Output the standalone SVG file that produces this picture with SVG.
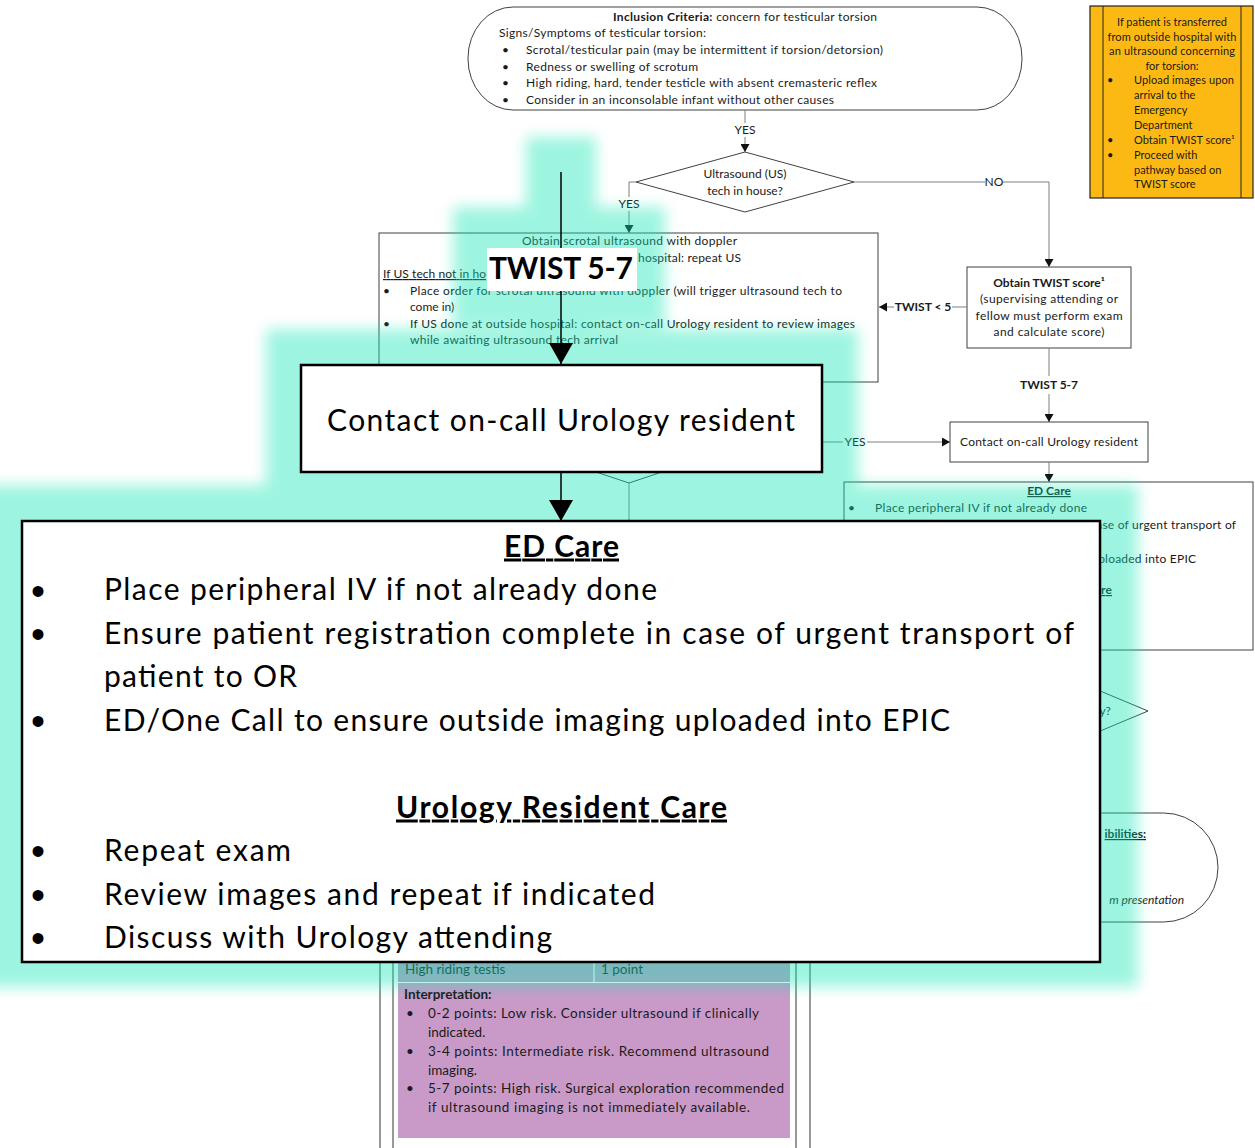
<svg xmlns="http://www.w3.org/2000/svg" width="1255" height="1148" viewBox="0 0 1255 1148">
<style>
.t{font-family:Lato,"Liberation Sans",sans-serif;font-size:12px;fill:#1a1a1a}
.b{font-weight:bold}
.i{font-style:italic}
.u{text-decoration:underline}
.c{text-anchor:middle}
.e{text-anchor:end}
.o{font-size:11px}
.m{font-size:13.5px}
.big{font-family:Lato,"Liberation Sans",sans-serif;font-size:30px;fill:#000}
.bul{font-family:"Liberation Sans",Arial,sans-serif;font-size:40px;fill:#000;text-anchor:middle}
.box{fill:#fff;stroke:#404040;stroke-width:1}
.conn{stroke:#7f7f7f;stroke-width:1;fill:none}
.zbox{fill:#fff;stroke:#000;stroke-width:2.5}
.zline{stroke:#000;stroke-width:1.5;fill:none}
</style>
<defs>
<marker id="a" markerUnits="userSpaceOnUse" markerWidth="9" markerHeight="9" refX="8" refY="4.5" orient="auto"><path d="M0,0 L8,4.5 L0,9 z" fill="#111"/></marker>
<marker id="A" markerUnits="userSpaceOnUse" markerWidth="23" markerHeight="24" refX="21" refY="12" orient="auto"><path d="M0,0 L21,12 L0,24 z" fill="#000"/></marker>
<filter id="blur" x="-10%" y="-10%" width="120%" height="120%"><feGaussianBlur stdDeviation="7"/></filter>
</defs>
<rect width="1255" height="1148" fill="#fff"/>

<!-- ===== base diagram ===== -->
<g id="inclusion">
<rect class="box" x="468" y="7" width="554" height="103" rx="45" ry="51"/>
<text class="t" x="745" y="21" text-anchor="middle" textLength="264"><tspan class="b">Inclusion Criteria:</tspan> concern for testicular torsion</text>
<text class="t" x="499" y="37" textLength="207">Signs/Symptoms of testicular torsion:</text>
<text class="t" x="502" y="54">•</text><text class="t" x="526" y="54" textLength="357">Scrotal/testicular pain (may be intermittent if torsion/detorsion)</text>
<text class="t" x="502" y="71">•</text><text class="t" x="526" y="71" textLength="172">Redness or swelling of scrotum</text>
<text class="t" x="502" y="87">•</text><text class="t" x="526" y="87" textLength="351">High riding, hard, tender testicle with absent cremasteric reflex</text>
<text class="t" x="502" y="104">•</text><text class="t" x="526" y="104" textLength="308">Consider in an inconsolable infant without other causes</text>
</g>

<g id="us-decision">
<polygon class="box" points="745,152 854,182 745,212 636,182"/>
<text class="t c" x="745" y="178">Ultrasound (US)</text>
<text class="t c" x="745" y="195">tech in house?</text>
</g>

<g id="transfer-note">
<rect x="1090" y="6" width="163" height="192" fill="#fdb913" stroke="#222" stroke-width="1.2"/>
<line x1="1103" y1="6" x2="1103" y2="198" stroke="#222" stroke-width="1"/>
<line x1="1241" y1="6" x2="1241" y2="198" stroke="#222" stroke-width="1"/>
<text class="t o c" x="1172" y="26">If patient is transferred</text>
<text class="t o c" x="1172" y="41" textLength="129">from outside hospital with</text>
<text class="t o c" x="1172" y="55" textLength="126">an ultrasound concerning</text>
<text class="t o c" x="1172" y="70">for torsion:</text>
<text class="t o" x="1107" y="84">•</text><text class="t o" x="1134" y="84" textLength="100">Upload images upon</text>
<text class="t o" x="1134" y="99">arrival to the</text>
<text class="t o" x="1134" y="114">Emergency</text>
<text class="t o" x="1134" y="129">Department</text>
<text class="t o" x="1107" y="144">•</text><text class="t o" x="1134" y="144">Obtain TWIST score¹</text>
<text class="t o" x="1107" y="159">•</text><text class="t o" x="1134" y="159">Proceed with</text>
<text class="t o" x="1134" y="174">pathway based on</text>
<text class="t o" x="1134" y="188">TWIST score</text>
</g>

<g id="us-box">
<rect class="box" x="379" y="233" width="499" height="149"/>
<text class="t c" x="629.5" y="245" textLength="215">Obtain scrotal ultrasound with doppler</text>
<text class="t" x="638" y="262" textLength="103">hospital: repeat US</text>
<text class="t u" x="383" y="278" textLength="103">If US tech not in ho</text>
<text class="t" x="383" y="295">•</text><text class="t" x="410" y="295" textLength="432">Place order for scrotal ultrasound with doppler (will trigger ultrasound tech to</text>
<text class="t" x="410" y="311">come in)</text>
<text class="t" x="383" y="328">•</text><text class="t" x="410" y="328" textLength="445">If US done at outside hospital: contact on-call Urology resident to review images</text>
<text class="t" x="410" y="344" textLength="208">while awaiting ultrasound tech arrival</text>
</g>

<g id="twist-box">
<rect class="box" x="967" y="267" width="164" height="81"/>
<text class="t b c" x="1049" y="287">Obtain TWIST score¹</text>
<text class="t c" x="1049" y="303" textLength="138">(supervising attending or</text>
<text class="t c" x="1049" y="320" textLength="147">fellow must perform exam</text>
<text class="t c" x="1049" y="336" textLength="111">and calculate score)</text>
</g>

<g id="contact-small">
<rect class="box" x="950" y="422" width="198" height="40"/>
<text class="t c" x="1049" y="446" textLength="178">Contact on-call Urology resident</text>
</g>

<g id="decision-hidden">
<polygon class="box" points="629,401 752,442 629,483 506,442"/>
</g>

<g id="ed-care-small">
<rect class="box" x="844" y="482" width="409" height="168"/>
<text class="t b u c" x="1049" y="495">ED Care</text>
<text class="t" x="848" y="512">•</text><text class="t" x="875" y="512" textLength="212">Place peripheral IV if not already done</text>
<text class="t" x="875" y="529" textLength="361">Ensure patient registration complete in case of urgent transport of</text>
<text class="t" x="875" y="563" textLength="321">ED/One Call to ensure outside imaging uploaded into EPIC</text>
<text class="t b u c" x="1049" y="594" textLength="126">Urology Resident Care</text>
</g>

<g id="decision-right">
<polygon class="box" points="952,629 1148,711 952,793 756,711"/>
<text class="t e" x="1111" y="715">y?</text>
</g>

<g id="resp-terminal">
<rect class="box" x="420" y="813" width="798" height="109" rx="54.5"/>
<text class="t b u e" x="1146" y="838">ibilities:</text>
<text class="t i e" x="1184" y="904">m presentation</text>
</g>

<g id="twist-table">
<line x1="380" y1="900" x2="380" y2="1148" stroke="#333" stroke-width="1"/>
<line x1="393" y1="900" x2="393" y2="1148" stroke="#333" stroke-width="1"/>
<line x1="796" y1="900" x2="796" y2="1148" stroke="#333" stroke-width="1"/>
<line x1="810" y1="900" x2="810" y2="1148" stroke="#333" stroke-width="1"/>
<rect x="398" y="930" width="392" height="52" fill="#c99ac8"/>
<rect x="398" y="983" width="392" height="155" fill="#c99ac8"/>
<line x1="594" y1="930" x2="594" y2="982" stroke="#fff" stroke-width="1.2"/>
<line x1="398" y1="982.5" x2="790" y2="982.5" stroke="#fff" stroke-width="1.2"/>
<text class="t m" x="405" y="974">High riding testis</text>
<text class="t m" x="601" y="974">1 point</text>
<text class="t m b" x="404" y="999">Interpretation:</text>
<text class="t m" x="406" y="1018">•</text><text class="t m" x="428" y="1018" textLength="331">0-2 points: Low risk. Consider ultrasound if clinically</text>
<text class="t m" x="428" y="1037">indicated.</text>
<text class="t m" x="406" y="1056">•</text><text class="t m" x="428" y="1056" textLength="341">3-4 points: Intermediate risk. Recommend ultrasound</text>
<text class="t m" x="428" y="1075">imaging.</text>
<text class="t m" x="406" y="1093">•</text><text class="t m" x="428" y="1093" textLength="356">5-7 points: High risk. Surgical exploration recommended</text>
<text class="t m" x="428" y="1112" textLength="322">if ultrasound imaging is not immediately available.</text>
</g>

<g id="connectors">
<path class="conn" d="M745,110 V123"/><path class="conn" d="M745,137 V152" marker-end="url(#a)"/>
<text class="t c" x="745" y="134">YES</text>
<path class="conn" d="M636,182 H629 V197"/><path class="conn" d="M629,211 V233" marker-end="url(#a)"/>
<text class="t c" x="629" y="208">YES</text>
<path class="conn" d="M854,182 H985"/><path class="conn" d="M1003,182 H1049 V267" marker-end="url(#a)"/>
<text class="t c" x="994" y="186">NO</text>
<path class="conn" d="M967,307 H952"/><path class="conn" d="M894,307 H879" marker-end="url(#a)"/>
<text class="t b c" x="923" y="311">TWIST &lt; 5</text>
<path class="conn" d="M1049,348 V376"/><path class="conn" d="M1049,394 V422" marker-end="url(#a)"/>
<text class="t b c" x="1049" y="389">TWIST 5-7</text>
<path class="conn" d="M752,442 H843"/><path class="conn" d="M867,442 H950" marker-end="url(#a)"/>
<text class="t c" x="855" y="446">YES</text>
<path class="conn" d="M1049,462 V482" marker-end="url(#a)"/>
<path class="conn" d="M629,483 V540"/>
</g>

<!-- ===== highlight glow ===== -->
<g id="glow" filter="url(#blur)" opacity="0.4" fill="#0ce6b2">
<rect x="526" y="137" width="70" height="240"/>
<rect x="453" y="207" width="212" height="120"/>
<rect x="266" y="329" width="592" height="180"/>
<rect x="-20" y="485" width="1158" height="502"/>
</g>

<!-- ===== magnified callouts ===== -->
<g id="zoom-connectors">
<path class="zline" d="M561,172 V364" marker-end="url(#A)"/>
<path class="zline" d="M561,472 V521" marker-end="url(#A)"/>
</g>

<g id="zoom-twist-label">
<rect x="487" y="248" width="150" height="43" fill="#fff"/>
<text class="big b" x="489" y="279" textLength="144">TWIST 5-7</text>
</g>

<g id="zoom-contact">
<rect class="zbox" x="301" y="365" width="521" height="107"/>
<text class="big" x="327" y="431" font-size="33" textLength="468">Contact on-call Urology resident</text>
</g>

<g id="zoom-ed-care">
<rect class="zbox" x="22" y="521" width="1078" height="441"/>
<text class="big b u" x="561.5" y="556.5" text-anchor="middle" textLength="115">ED Care</text>
<text class="bul" x="38" y="605">•</text><text class="big" x="104" y="600" textLength="553">Place peripheral IV if not already done</text>
<text class="bul" x="38" y="648">•</text><text class="big" x="104" y="643.5" textLength="970">Ensure patient registration complete in case of urgent transport of</text>
<text class="big" x="104" y="687" textLength="193">patient to OR</text>
<text class="bul" x="38" y="735">•</text><text class="big" x="104" y="730.5" textLength="846">ED/One Call to ensure outside imaging uploaded into EPIC</text>
<text class="big b u" x="561.5" y="817.5" text-anchor="middle" textLength="331">Urology Resident Care</text>
<text class="bul" x="38" y="865">•</text><text class="big" x="104" y="861" textLength="187">Repeat exam</text>
<text class="bul" x="38" y="909">•</text><text class="big" x="104" y="904.5" textLength="551">Review images and repeat if indicated</text>
<text class="bul" x="38" y="952">•</text><text class="big" x="104" y="948" textLength="448">Discuss with Urology attending</text>
</g>
</svg>
